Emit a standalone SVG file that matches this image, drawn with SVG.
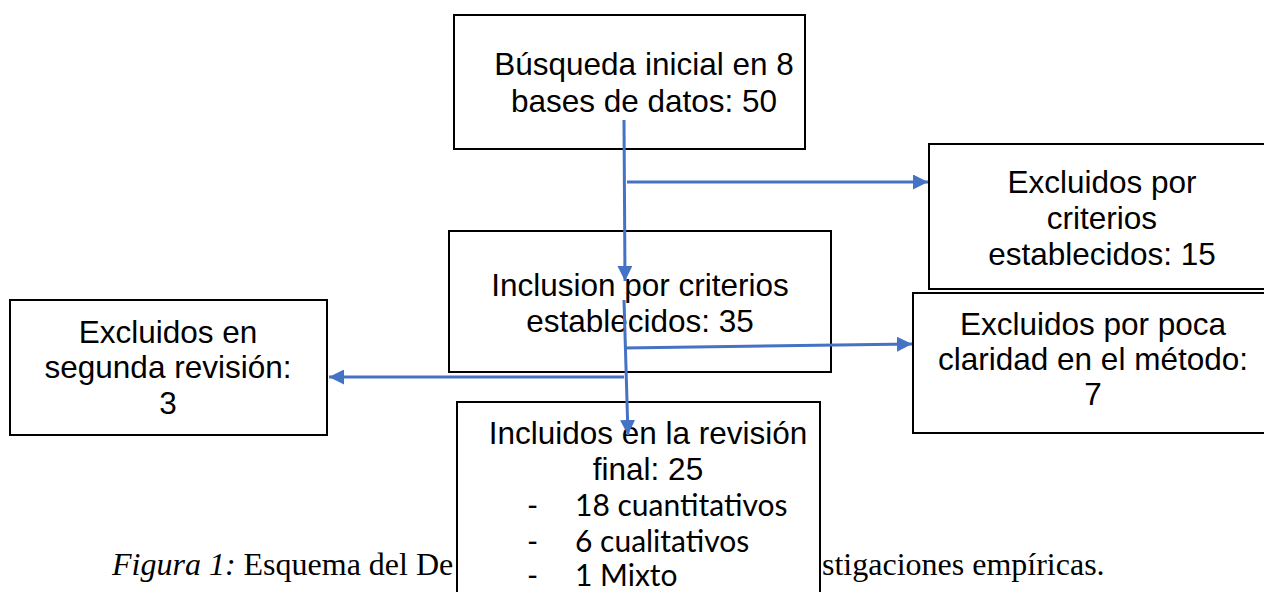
<svg xmlns="http://www.w3.org/2000/svg" width="1264" height="592" viewBox="0 0 1264 592">
<style>
.box{fill:#fff;stroke:#000;stroke-width:2}
.t{font-family:"Liberation Sans",Arial,sans-serif;font-size:31.5px;fill:#000;text-anchor:middle}
.l{font-family:Lato,"Open Sans",sans-serif;font-size:30px;fill:#000}
.cap{font-family:"Liberation Serif","Times New Roman",serif;font-size:32px;fill:#000}
.c{stroke:#4472C4;stroke-width:3;fill:none}
</style>
<defs>
<marker id="ah" viewBox="0 0 10 10" refX="10" refY="5" markerWidth="5" markerHeight="5" orient="auto" markerUnits="strokeWidth">
<path d="M0,0 L10,5 L0,10 z" fill="#4472C4"/>
</marker>
</defs>
<text class="cap" x="112" y="575"><tspan font-style="italic">Figura 1:</tspan> Esquema del De</text>
<text class="cap" x="822" y="575">stigaciones empíricas.</text>
<g id="n1">
<rect class="box" x="454" y="15" width="351" height="134"/>
<text class="t" x="644" y="75">Búsqueda inicial en 8</text>
<text class="t" x="644" y="112">bases de datos: 50</text>
</g>
<g id="n2">
<rect class="box" x="929" y="144" width="340" height="145"/>
<text class="t" x="1102" y="193">Excluidos por</text>
<text class="t" x="1102" y="229">criterios</text>
<text class="t" x="1102" y="265">establecidos: 15</text>
</g>
<g id="n3">
<rect class="box" x="449" y="231" width="382" height="141"/>
<text class="t" x="640" y="296">Inclusion por criterios</text>
<text class="t" x="640" y="332">establecidos: 35</text>
</g>
<g id="n4">
<rect class="box" x="913" y="293" width="356" height="140"/>
<text class="t" x="1093" y="335">Excluidos por poca</text>
<text class="t" x="1093" y="370">claridad en el método:</text>
<text class="t" x="1093" y="405">7</text>
</g>
<g id="n5">
<rect class="box" x="10" y="300" width="317" height="135"/>
<text class="t" x="168" y="343">Excluidos en</text>
<text class="t" x="168" y="378">segunda revisión:</text>
<text class="t" x="168" y="414">3</text>
</g>
<g id="n6">
<rect class="box" x="457" y="402" width="363" height="200"/>
<text class="t" x="648" y="444">Incluidos en la revisión</text>
<text class="t" x="648" y="480">final: 25</text>
<g class="l">
<text x="527" y="516">-</text><text x="575" y="516">18 cuantitativos</text>
<text x="527" y="552">-</text><text x="575" y="552">6 cualitativos</text>
<text x="527" y="586">-</text><text x="575" y="586">1 Mixto</text>
</g>
</g>
<g id="connectors">
<line class="c" x1="624" y1="120" x2="625" y2="281" marker-end="url(#ah)"/>
<line class="c" x1="627" y1="182" x2="928" y2="182" marker-end="url(#ah)"/>
<line class="c" x1="624" y1="300" x2="628" y2="435" marker-end="url(#ah)"/>
<line class="c" x1="624" y1="348" x2="912" y2="344" marker-end="url(#ah)"/>
<line class="c" x1="624" y1="377" x2="329" y2="377" marker-end="url(#ah)"/>
</g>
</svg>
